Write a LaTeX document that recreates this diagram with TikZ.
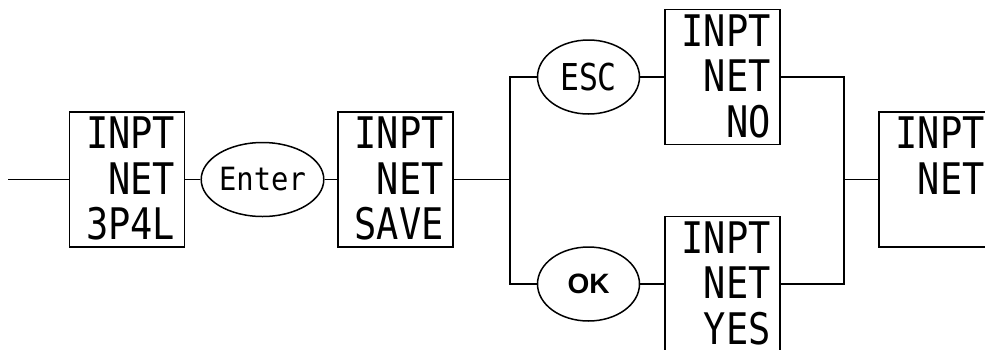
\documentclass[tikz,border=0pt]{standalone}
\usepackage{fontspec}
\usetikzlibrary{shapes.geometric}
\newfontfamily\boxfont[FakeStretch=0.85]{DejaVu Sans Mono}
\newfontfamily\keyfont[FakeStretch=0.9]{DejaVu Sans Mono}
\newfontfamily\okfont{Liberation Sans}
\begin{document}
\begin{tikzpicture}[x=1pt,y=-1pt,
  wire/.style={line width=1.9pt,black},
  menubox/.style={draw,line width=1.9pt,rectangle,minimum width=115pt,minimum height=135pt,inner sep=0pt},
  menutext/.style={anchor=north east,inner sep=0pt,align=right,
     font=\boxfont\fontsize{43.5}{45.5}\selectfont},
  keyoval/.style={draw,line width=1.5pt,ellipse,minimum width=102pt,minimum height=74pt,inner sep=0pt}]
\useasboundingbox (0,0) rectangle (985,349);
\coordinate (start) at (8,179.5);
\node[menubox] (b1) at (127,179.5) {};
\node[menutext] (b1t) at ([shift={(-10,6)}]b1.north east) {INPT\\NET\\3P4L};
\node[keyoval,font=\keyfont\fontsize{32}{32}\selectfont] (enter) at (262.5,179.5) {Enter};
\node[menubox] (b2) at (395.5,179.5) {};
\node[menutext] (b2t) at ([shift={(-10,6)}]b2.north east) {INPT\\NET\\SAVE};
\coordinate (split) at (510,179.5);
\coordinate (splitT) at (510,77);
\coordinate (splitB) at (510,284);
\node[keyoval,font=\boxfont\fontsize{37}{37}\selectfont] (esc) at (588.5,77) {ESC};
\node[keyoval,font=\okfont\bfseries\fontsize{28}{28}\selectfont] (ok) at (588.5,284) {OK};
\node[menubox] (no) at (722.5,77) {};
\node[menutext] (not) at ([shift={(-10,6)}]no.north east) {INPT\\NET\\NO};
\node[menubox] (yes) at (722.5,284) {};
\node[menutext] (yest) at ([shift={(-10,6)}]yes.north east) {INPT\\NET\\YES};
\coordinate (joinT) at (844,77);
\coordinate (joinB) at (844,284);
\coordinate (join) at (844,179.5);
\node[menubox] (last) at (936.5,179.5) {};
\node[menutext] (lastt) at ([shift={(-10,6)}]last.north east) {INPT\\NET};
\draw[wire] (start) -- (b1.west);
\draw[wire] (b1.east) -- (enter.west);
\draw[wire] (enter.east) -- (b2.west);
\draw[wire] (b2.east) -- (split);
\draw[wire] (esc.west) -- (splitT) -- (splitB) -- (ok.west);
\draw[wire] (esc.east) -- (no.west);
\draw[wire] (ok.east) -- (yes.west);
\draw[wire] (no.east) -- (joinT) -- (joinB) -- (yes.east);
\draw[wire] (join) -- (last.west);
\end{tikzpicture}
\end{document}
